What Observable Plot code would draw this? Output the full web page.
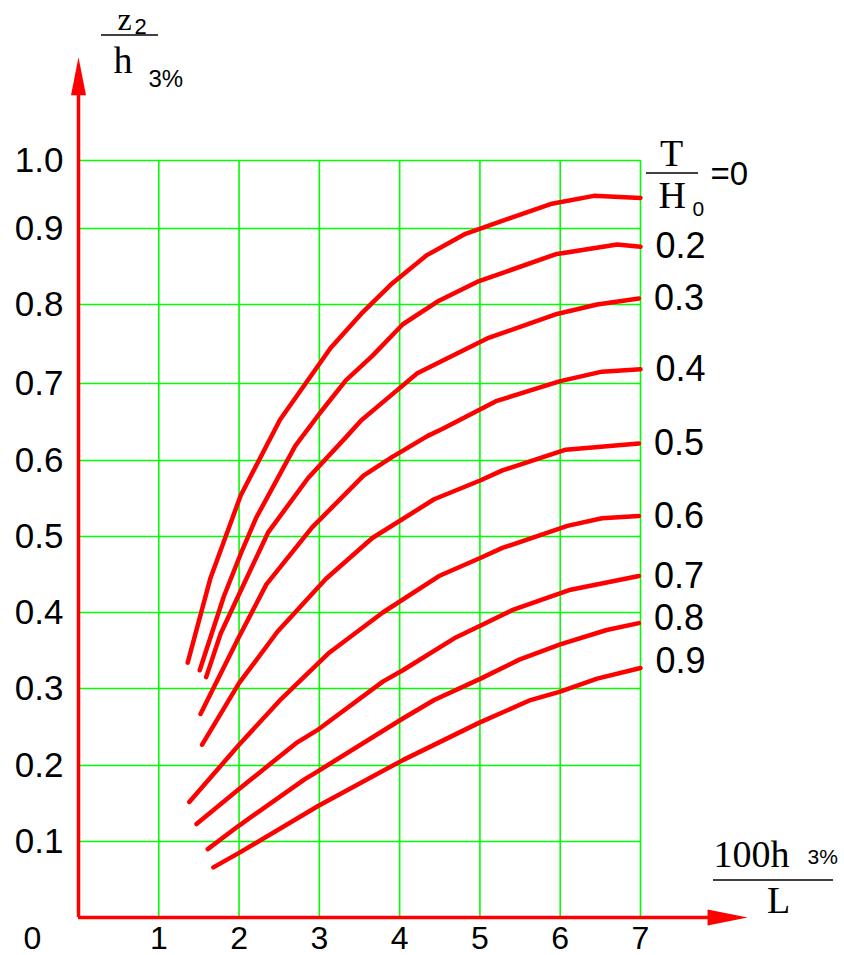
<!DOCTYPE html>
<html>
<head>
<meta charset="utf-8">
<script src="https://cdn.jsdelivr.net/npm/d3@7"></script>
<script src="https://cdn.jsdelivr.net/npm/@observablehq/plot@0.6"></script>
<style>
  html, body { margin: 0; padding: 0; background: #fff; }
</style>
</head>
<body>
<div id="chart"></div>
<script>
// ---- Data ----
const seriesNames = ["0", "0.2", "0.3", "0.4", "0.5", "0.6", "0.7", "0.8", "0.9"];

const curveT00 = [[1.36,0.334],[1.64,0.444],[2.02,0.554],[2.51,0.653],[3.14,0.745],[3.52,0.788],[3.91,0.828],[4.34,0.865],[4.82,0.893],[5.88,0.936],[6.42,0.948],[7.0,0.945]];
const curveT02 = [[1.51,0.324],[1.81,0.421],[2.02,0.477],[2.21,0.524],[2.70,0.619],[3.01,0.662],[3.33,0.704],[3.66,0.735],[4.04,0.775],[4.49,0.805],[4.97,0.830],[5.94,0.866],[6.71,0.879],[7.0,0.876]];
const curveT03 = [[1.59,0.315],[1.77,0.372],[2.0,0.424],[2.36,0.505],[2.86,0.577],[3.33,0.630],[3.52,0.652],[3.84,0.680],[4.22,0.713],[5.09,0.757],[5.96,0.788],[6.46,0.800],[6.98,0.808]];
const curveT04 = [[1.52,0.267],[2.0,0.368],[2.34,0.437],[2.91,0.512],[3.55,0.580],[3.9,0.604],[4.35,0.632],[4.53,0.641],[5.2,0.677],[6.0,0.703],[6.52,0.715],[7.0,0.718]];
const curveT05 = [[1.54,0.227],[2.0,0.307],[2.48,0.375],[3.08,0.444],[3.66,0.498],[4.43,0.549],[5.01,0.574],[5.28,0.587],[6.07,0.614],[6.98,0.622]];
const curveT06 = [[1.38,0.152],[2.0,0.227],[2.53,0.287],[3.11,0.346],[3.79,0.400],[4.49,0.448],[5.01,0.472],[5.28,0.485],[6.09,0.514],[6.52,0.524],[6.98,0.527]];
const curveT07 = [[1.47,0.123],[2.0,0.169],[2.71,0.229],[2.99,0.247],[3.79,0.309],[4.04,0.324],[4.68,0.366],[5.01,0.383],[5.40,0.403],[6.13,0.430],[6.98,0.448]];
const curveT08 = [[1.61,0.090],[2.0,0.121],[2.82,0.182],[2.99,0.193],[4.04,0.261],[4.43,0.285],[5.01,0.313],[5.49,0.338],[6.0,0.358],[6.58,0.377],[6.98,0.386]];
const curveT09 = [[1.68,0.066],[2.0,0.085],[2.99,0.147],[4.04,0.207],[5.0,0.256],[5.63,0.285],[6.0,0.296],[6.46,0.313],[7.0,0.327]];

const xTicks = [1, 2, 3, 4, 5, 6, 7];
const xTickLabels = ["1", "2", "3", "4", "5", "6", "7"];
const yTicks = [0.1, 0.2, 0.3, 0.4, 0.5, 0.6, 0.7, 0.8, 0.9, 1.0];
const yTickLabels = ["0.1", "0.2", "0.3", "0.4", "0.5", "0.6", "0.7", "0.8", "0.9", "1.0"];
const originLabel = ["0"];
const curveLabels = ["0.2", "0.3", "0.4", "0.5", "0.6", "0.7", "0.8", "0.9"];

// ---- Build tables ----
const curves = [curveT00, curveT02, curveT03, curveT04, curveT05, curveT06, curveT07, curveT08, curveT09];
const rows = curves.flatMap((pts, i) => pts.map(([x, y]) => ({T: seriesNames[i], x, y})));
const ends = curves.slice(1).map((pts, i) => ({label: curveLabels[i], x: pts[pts.length - 1][0], y: pts[pts.length - 1][1]}));

const RED = "#ff0000";
const GREEN = "#00ff00";
const SANS = "Liberation Sans, Arial, sans-serif";
const SERIF = "Liberation Serif, Times New Roman, serif";

// axis extents beyond the grid (data units)
const yAxisEnd = 1.096;
const xAxisEnd = 7.835;

const arrowUp = {draw(c) { c.moveTo(0, -38); c.lineTo(7.5, 0); c.lineTo(-7.5, 0); c.closePath(); }};
const arrowRight = {draw(c) { c.moveTo(40, 0); c.lineTo(0, -8); c.lineTo(0, 8); c.closePath(); }};

// fraction bars of the axis / legend labels (drawn relative to the frame)
const fractionBars = (index, scales, values, dimensions) => {
  const ox = dimensions.marginLeft, oy = dimensions.marginTop;
  const g = d3.create("svg:g").attr("stroke", "#000").attr("stroke-width", 1.6);
  [[23, 80, -125], [568, 620, 13], [635, 755, 720]].forEach(([a, b, y]) => {
    g.append("line").attr("x1", ox + a).attr("x2", ox + b).attr("y1", oy + y).attr("y2", oy + y);
  });
  return g.node();
};

const note = (t, dx, dy, size, family, anchor = "start") =>
  Plot.text([t], {frameAnchor: "top-left", text: d => d, dx, dy, fontSize: size, fontFamily: family,
    textAnchor: anchor, lineAnchor: "bottom", fill: "#000"});

const chart = Plot.plot({
  width: 844,
  height: 955,
  marginLeft: 78,
  marginRight: 204,
  marginTop: 160,
  marginBottom: 38,
  x: {domain: [0, 7], range: [78, 640], axis: null},
  y: {type: "linear", domain: [0, ...yTicks], range: [917, 841, 765, 688, 612, 536, 460, 383, 304, 228, 160], axis: null},
  style: {background: "#fff", overflow: "visible"},
  marks: [
    // grid
    Plot.ruleX(xTicks, {x: d => d, y1: 0, y2: 1.0, stroke: GREEN, strokeWidth: 1.6}),
    Plot.ruleY(yTicks, {y: d => d, x1: 0, x2: 7, stroke: GREEN, strokeWidth: 1.6}),
    // axes with arrows
    Plot.ruleX([0], {x: d => d, y1: 0, y2: yAxisEnd + 0.003, stroke: RED, strokeWidth: 3.5}),
    Plot.ruleY([0], {y: d => d, x1: 0, x2: xAxisEnd + 0.03, stroke: RED, strokeWidth: 3.5}),
    Plot.dot([0], {x: d => d, y: () => yAxisEnd, symbol: arrowUp, r: 5, fill: RED, stroke: "none"}),
    Plot.dot([0], {x: () => xAxisEnd, y: d => d, symbol: arrowRight, r: 5, fill: RED, stroke: "none"}),
    // curves
    Plot.line(rows, {x: "x", y: "y", z: "T", stroke: RED, strokeWidth: 4.5, strokeLinecap: "round", strokeLinejoin: "round", curve: "linear"}),
    // tick labels
    Plot.text(yTicks, {x: 0, y: d => d, text: (d, i) => yTickLabels[i], dx: -15, textAnchor: "end", lineAnchor: "middle", fontSize: 35, fontFamily: SANS, fill: "#000"}),
    Plot.text(xTicks, {x: d => d, y: 0, text: (d, i) => xTickLabels[i], dy: 31, textAnchor: "middle", lineAnchor: "bottom", fontSize: 32, fontFamily: SANS, fill: "#000"}),
    Plot.text(originLabel, {x: 0, y: 0, text: d => d, dx: -46, dy: 31, textAnchor: "middle", lineAnchor: "bottom", fontSize: 32, fontFamily: SANS, fill: "#000"}),
    // curve labels (T/H0 values)
    Plot.text(ends.slice(0, 6), {x: "x", y: "y", text: "label", dx: 15, textAnchor: "start", lineAnchor: "middle", fontSize: 36, fontFamily: SANS, fill: "#000"}),
    Plot.text(ends.slice(6, 7), {x: "x", y: "y", text: "label", dx: 15, dy: -5, textAnchor: "start", lineAnchor: "middle", fontSize: 36, fontFamily: SANS, fill: "#000"}),
    Plot.text(ends.slice(7), {x: "x", y: "y", text: "label", dx: 15, dy: -7, textAnchor: "start", lineAnchor: "middle", fontSize: 36, fontFamily: SANS, fill: "#000"}),
    // y axis title: z2 / h3%
    note("z", 39, -131, 32, SERIF),
    note("2", 56, -127, 22, SANS),
    note("h", 35, -88, 38, SERIF),
    note("3%", 70, -74, 24, SANS),
    // legend title: T / H0 = 0
    note("T", 593, 5, 38, SERIF, "middle"),
    note("H", 580, 47, 38, SERIF),
    note("0", 614, 55, 21, SANS),
    note("=0", 632, 24, 33, SANS),
    // x axis title: 100h3% / L
    note("100h", 635, 706, 38, SERIF),
    note("3%", 729, 703, 21, SANS),
    note("L", 700, 752, 38, SERIF, "middle"),
    fractionBars
  ]
});

document.getElementById("chart").appendChild(chart);
</script>
</body>
</html>
